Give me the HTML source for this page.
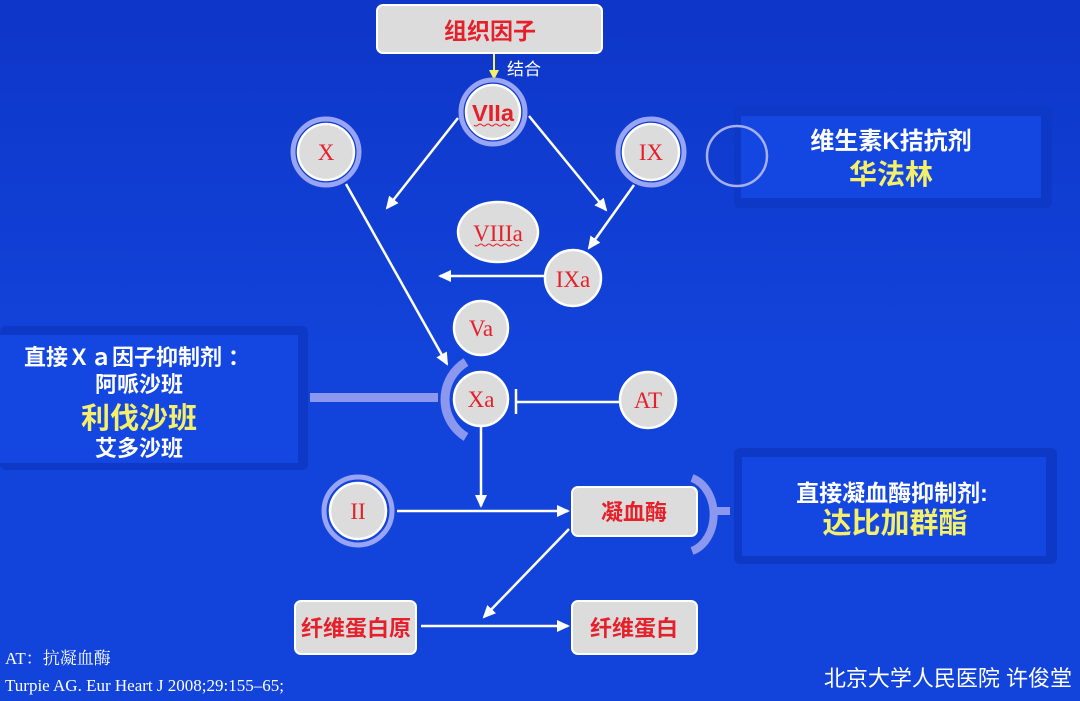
<!DOCTYPE html>
<html><head><meta charset="utf-8"><style>
html,body{margin:0;padding:0;width:1080px;height:701px;overflow:hidden;background:#1241d6}
svg{display:block}
text{font-family:"Liberation Sans","Noto Sans CJK SC",sans-serif}
.ser{font-family:"Liberation Serif","Noto Serif CJK SC",serif}
</style></head><body>
<svg width="1080" height="701" viewBox="0 0 1080 701" xmlns="http://www.w3.org/2000/svg">
<defs>
<linearGradient id="bg" x1="0" y1="0" x2="0" y2="1">
<stop offset="0" stop-color="#0e36c8"/><stop offset="0.5" stop-color="#1243da"/><stop offset="1" stop-color="#1244dc"/>
</linearGradient>
<marker id="ah" markerWidth="13" markerHeight="12" refX="11" refY="6" orient="auto" markerUnits="userSpaceOnUse"><path d="M0,0 L13,6 L0,12 Z" fill="#fff"/></marker>
<marker id="ay" markerWidth="10" markerHeight="10" refX="8" refY="5" orient="auto" markerUnits="userSpaceOnUse"><path d="M0,0 L10,5 L0,10 Z" fill="#f4f06a"/></marker>
</defs>
<rect width="1080" height="701" fill="url(#bg)"/>

<rect x="0" y="326" width="308" height="144" rx="6" fill="#0d39c6"/>
<rect x="0" y="335" width="298" height="128" fill="#1447e2"/>
<rect x="734" y="106" width="318" height="102" rx="6" fill="#0d39c6"/>
<rect x="741" y="116" width="300" height="82" fill="#1447e2"/>
<rect x="734" y="448" width="323" height="116" rx="6" fill="#0d39c6"/>
<rect x="742" y="457" width="304" height="99" fill="#1447e2"/>
<circle cx="737" cy="156" r="30" fill="none" stroke="#a8b0f0" stroke-width="2.5"/>

<rect x="377" y="5" width="225" height="48" rx="6" fill="#dcdcdc" stroke="#fff" stroke-width="2"/>
<text x="490" y="39" font-size="23" font-weight="bold" fill="#e5202a" text-anchor="middle">组织因子</text>
<line x1="494" y1="54" x2="494" y2="78" stroke="#f4f06a" stroke-width="2" marker-end="url(#ay)"/>
<text x="507" y="75" font-size="17" fill="#fff">结合</text>

<g stroke="#fff" stroke-width="2.5" fill="none">
<line x1="458" y1="118" x2="387" y2="208" marker-end="url(#ah)"/>
<line x1="529" y1="116" x2="606" y2="210" marker-end="url(#ah)"/>
<line x1="634" y1="185" x2="589" y2="248" marker-end="url(#ah)"/>
<line x1="544" y1="276" x2="440" y2="276" marker-end="url(#ah)"/>
<line x1="346" y1="184" x2="447" y2="364" marker-end="url(#ah)"/>
<line x1="481" y1="427" x2="481" y2="506" marker-end="url(#ah)"/>
<line x1="397" y1="511" x2="568" y2="511" marker-end="url(#ah)"/>
<line x1="569" y1="529" x2="484" y2="617" marker-end="url(#ah)"/>
<line x1="421" y1="626" x2="568" y2="626" marker-end="url(#ah)"/>
<line x1="619" y1="402" x2="517" y2="402"/>
<line x1="516" y1="389" x2="516" y2="414"/>
</g>

<rect x="310" y="393" width="128" height="9" fill="#8c98ee"/>
<path d="M466,362 A44,44 0 0 0 466,437" fill="none" stroke="#8c98ee" stroke-width="9"/>
<path d="M692,478 A30,38 0 0 1 692,551" fill="none" stroke="#8c98ee" stroke-width="8"/>
<rect x="716" y="507" width="14" height="8" fill="#8c98ee"/>

<g fill="none" stroke="#98a4f4" stroke-width="5">
<circle cx="493" cy="112" r="32"/>
<circle cx="326" cy="152" r="33"/>
<circle cx="651" cy="152" r="33"/>
<circle cx="358" cy="511" r="34"/>
</g>
<g fill="#dcdcdc" stroke="#fff" stroke-width="2.5">
<circle cx="493" cy="112" r="27"/>
<circle cx="326" cy="152" r="28"/>
<circle cx="651" cy="152" r="28"/>
<circle cx="358" cy="511" r="28"/>
<ellipse cx="498" cy="232" rx="40" ry="30"/>
<circle cx="573" cy="278" r="28"/>
<circle cx="481" cy="328" r="27"/>
<circle cx="481" cy="399" r="27"/>
<circle cx="648" cy="400" r="28"/>
</g>
<g font-size="23" fill="#e5202a" text-anchor="middle">
<text x="493" y="121" font-weight="bold" textLength="42" lengthAdjust="spacingAndGlyphs">VIIa</text>
<text class="ser" x="326" y="160">X</text>
<text class="ser" x="651" y="160">IX</text>
<text class="ser" x="358" y="519">II</text>
<text class="ser" x="498" y="241">VIIIa</text>
<text class="ser" x="573" y="287">IXa</text>
<text class="ser" x="481" y="336">Va</text>
<text class="ser" x="481" y="407">Xa</text>
<text class="ser" x="648" y="408">AT</text>
</g>
<g stroke="#e5202a" stroke-width="1" fill="none">
<path d="M474,125 q2,2 4,0 t4,0 t4,0 t4,0 t4,0 t4,0 t4,0 t4,0 t4,0"/>
<path d="M475,245 q2,2 4,0 t4,0 t4,0 t4,0 t4,0 t4,0 t4,0 t4,0 t4,0 t4,0 t4,0"/>
</g>

<g fill="#dcdcdc" stroke="#fff" stroke-width="2">
<rect x="572" y="487" width="125" height="49" rx="6"/>
<rect x="295" y="601" width="121" height="53" rx="6"/>
<rect x="572" y="601" width="125" height="53" rx="6"/>
</g>
<g font-size="22" font-weight="bold" fill="#e5202a" text-anchor="middle">
<text x="634" y="520">凝血酶</text>
<text x="356" y="636">纤维蛋白原</text>
<text x="634" y="636">纤维蛋白</text>
</g>

<g fill="#fff" font-weight="bold" text-anchor="middle">
<text x="137" y="365" font-size="22">直接Ｘａ因子抑制剂 ：</text>
<text x="139" y="392" font-size="22">阿哌沙班</text>
<text x="139" y="428" font-size="29" fill="#f4f06a">利伐沙班</text>
<text x="139" y="456" font-size="22">艾多沙班</text>
<text x="891" y="149" font-size="24">维生素K拮抗剂</text>
<text x="891" y="184" font-size="28" fill="#f4f06a">华法林</text>
<text x="892" y="501" font-size="23">直接凝血酶抑制剂:</text>
<text x="895" y="533" font-size="29" fill="#f4f06a">达比加群酯</text>
</g>

<text x="5" y="664" font-size="17" fill="#fff" class="ser">AT：抗凝血酶</text>
<text x="5" y="691" font-size="17" fill="#fff" class="ser">Turpie AG. Eur Heart J 2008;29:155–65;</text>
<text x="1072" y="686" font-size="22" fill="#fff" text-anchor="end">北京大学人民医院 许俊堂</text>
</svg>
</body></html>
